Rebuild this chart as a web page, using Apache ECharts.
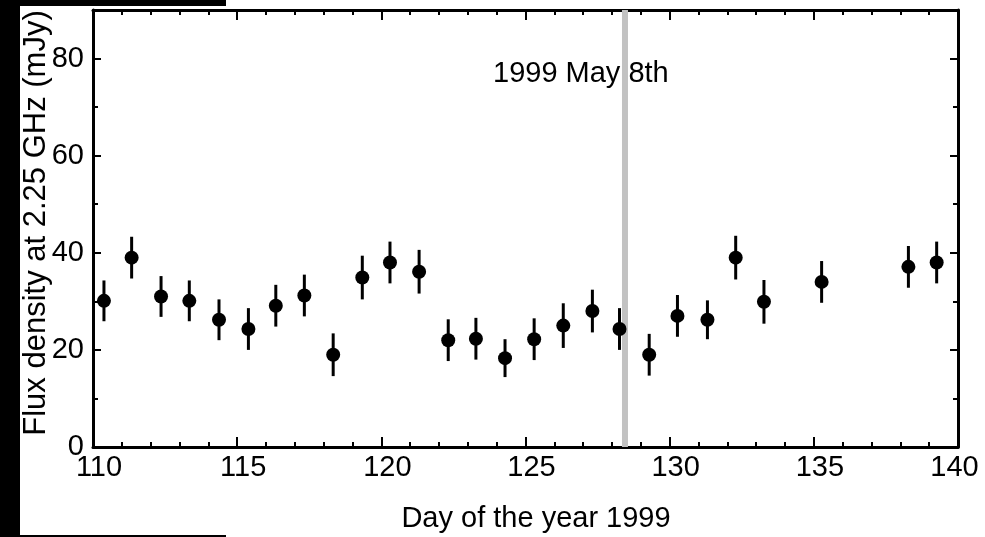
<!DOCTYPE html>
<html>
<head>
<meta charset="utf-8">
<script src="https://cdn.jsdelivr.net/npm/echarts@6/dist/echarts.min.js"></script>
<style>
  html, body { margin: 0; padding: 0; background: #fff; }
  #chart { width: 985px; height: 537px; }
</style>
</head>
<body>
<div id="chart"></div>
<script>
// Radio monitoring: flux density at 2.25 GHz versus day of year (1999)
const days = [110.38, 111.34, 112.36, 113.34, 114.37, 115.39, 116.34, 117.33, 118.33,
              119.34, 120.30, 121.31, 122.32, 123.28, 124.29, 125.30, 126.31, 127.32,
              128.26, 129.29, 130.27, 131.31, 132.29, 133.27, 135.27, 138.28, 139.26];
const flux = [30.1, 39.0, 31.0, 30.1, 26.2, 24.3, 29.1, 31.2, 19.0,
              34.9, 38.0, 36.1, 22.0, 22.3, 18.3, 22.2, 25.0, 28.0,
              24.3, 19.0, 27.0, 26.2, 39.0, 29.9, 34.0, 37.1, 38.0];
const fluxErr = [4.2, 4.3, 4.2, 4.2, 4.2, 4.3, 4.3, 4.3, 4.4,
                 4.5, 4.3, 4.5, 4.3, 4.3, 3.9, 4.3, 4.6, 4.4,
                 4.3, 4.3, 4.3, 4.0, 4.5, 4.5, 4.3, 4.3, 4.3];
const xTickLabels = [110, 115, 120, 125, 130, 135, 140];
const yTickLabels = [0, 20, 40, 60, 80];
const eventDay = 128.45;
const eventLabel = '1999 May 8th';
const xTitle = 'Day of the year 1999';
const yTitle = 'Flux density at 2.25 GHz (mJy)';

const FONT = "'Liberation Sans', Arial, sans-serif";
const X_MIN = 110, X_MAX = 140, Y_MIN = 0, Y_MAX = 90;

const points = days.map((d, i) => [d, flux[i], fluxErr[i]]);

function xAxisDef(pos, interval, tickLen, withLabels, withLine) {
  return {
    type: 'value', position: pos, min: X_MIN, max: X_MAX, interval: interval,
    axisLine: { show: withLine, onZero: false, lineStyle: { color: '#000', width: 3 } },
    axisTick: { show: true, inside: true, length: tickLen, lineStyle: { color: '#000', width: 2 } },
    splitLine: { show: false },
    axisLabel: withLabels ? {
      show: true, margin: 6, color: '#000', fontFamily: FONT, fontSize: 29,
      formatter: v => {
        if (xTickLabels.indexOf(v) < 0) return '';
        return v === X_MAX ? '{e|' + v + '}' : '{m|' + v + '}';
      },
      rich: {
        m: { fontFamily: FONT, fontSize: 29, color: '#000', padding: [0, 0, 0, 12] },
        e: { fontFamily: FONT, fontSize: 29, color: '#000', padding: [0, 7, 0, 0] }
      }
    } : { show: false }
  };
}

function yAxisDef(pos, interval, tickLen, withLabels, withLine) {
  return {
    type: 'value', position: pos, min: Y_MIN, max: Y_MAX, interval: interval,
    axisLine: { show: withLine, onZero: false, lineStyle: { color: '#000', width: 3 } },
    axisTick: { show: true, inside: true, length: tickLen, lineStyle: { color: '#000', width: 2 } },
    splitLine: { show: false },
    axisLabel: withLabels ? {
      show: true, margin: 9, color: '#000', fontFamily: FONT, fontSize: 29,
      formatter: v => (yTickLabels.indexOf(v) >= 0 ? String(v) : '')
    } : { show: false }
  };
}

const chart = echarts.init(document.getElementById('chart'), null, { renderer: 'canvas' });

chart.setOption({
  animation: false,
  backgroundColor: '#fff',
  grid: { left: 93, right: 27, top: 10, bottom: 90, containLabel: false },
  xAxis: [
    xAxisDef('bottom', 1, 5, true, true),
    xAxisDef('bottom', 5, 10, false, false),
    xAxisDef('top', 1, 5, false, true),
    xAxisDef('top', 5, 10, false, false)
  ],
  yAxis: [
    yAxisDef('left', 10, 5, true, true),
    yAxisDef('left', 20, 8, false, false),
    yAxisDef('right', 10, 5, false, true),
    yAxisDef('right', 20, 8, false, false)
  ],
  series: [
    {
      // vertical marker for the event date
      type: 'line', xAxisIndex: 0, yAxisIndex: 0, z: 0,
      data: [[eventDay, Y_MIN], [eventDay, Y_MAX]],
      symbol: 'none', silent: true,
      lineStyle: { color: '#c2c2c2', width: 6 }
    },
    {
      // error bars
      type: 'custom', xAxisIndex: 0, yAxisIndex: 0, z: 3,
      data: points,
      encode: { x: 0, y: 1 },
      renderItem: (params, api) => {
        const x = api.value(0), y = api.value(1), e = api.value(2);
        const top = api.coord([x, y + e]);
        const bot = api.coord([x, y - e]);
        return {
          type: 'line',
          shape: { x1: top[0], y1: top[1], x2: bot[0], y2: bot[1] },
          style: { stroke: '#000', lineWidth: 3 }
        };
      }
    },
    {
      type: 'scatter', xAxisIndex: 0, yAxisIndex: 0, z: 4,
      data: points.map(p => [p[0], p[1]]),
      symbol: 'circle', symbolSize: 14,
      itemStyle: { color: '#000', opacity: 1 }
    }
  ],
  graphic: [
    { type: 'rect', shape: { x: 0, y: 0, width: 20, height: 537 }, style: { fill: '#000' }, silent: true },
    { type: 'rect', shape: { x: 0, y: 0, width: 226, height: 6 }, style: { fill: '#000' }, silent: true },
    { type: 'rect', shape: { x: 0, y: 535, width: 226, height: 2 }, style: { fill: '#000' }, silent: true },
    {
      type: 'text', x: 493, y: 74, zlevel: 1, z: 100,
      style: { text: eventLabel, fill: '#000', font: '29px ' + FONT, align: 'left', verticalAlign: 'middle' }
    },
    {
      type: 'text', x: 536, y: 519,
      style: { text: xTitle, fill: '#000', font: '29px ' + FONT, align: 'center', verticalAlign: 'middle' }
    },
    {
      type: 'text', x: 36, y: 223, rotation: Math.PI / 2,
      style: { text: yTitle, fill: '#000', font: '31px ' + FONT, align: 'center', verticalAlign: 'middle' }
    }
  ]
});
</script>
</body>
</html>
